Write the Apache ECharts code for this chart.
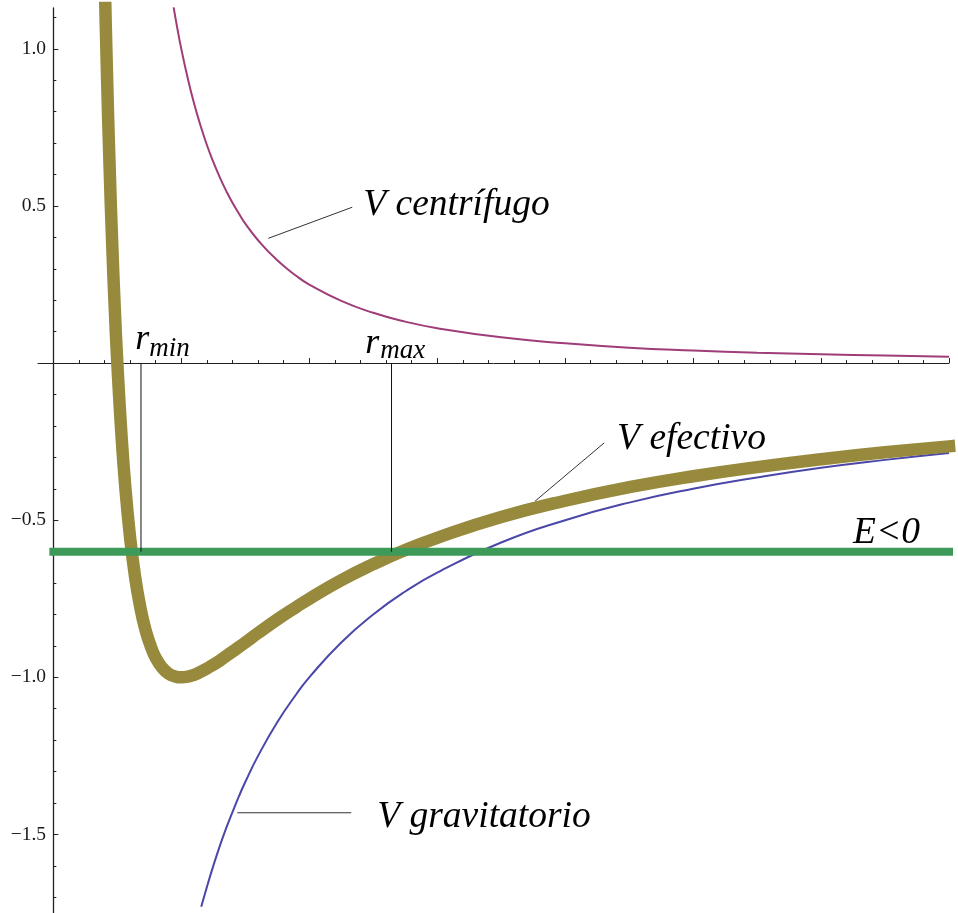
<!DOCTYPE html>
<html>
<head>
<meta charset="utf-8">
<script src="https://cdn.jsdelivr.net/npm/echarts@6/dist/echarts.min.js"></script>
<style>
  html, body { margin: 0; padding: 0; background: #fff; }
  #chart { width: 958px; height: 913px; }
</style>
</head>
<body>
<div id="chart"></div>
<script>
// Effective potential: radius r and potential values
const rEff = [0.38, 0.40, 0.42, 0.44, 0.46, 0.48, 0.50, 0.53, 0.56, 0.60, 0.64, 0.68, 0.72, 0.76, 0.80, 0.85, 0.90, 0.95, 1.00,
              1.05, 1.10, 1.15, 1.20, 1.30, 1.40, 1.50, 1.60, 1.75, 1.90, 2.00, 2.25, 2.50, 2.75, 3.00, 3.50, 4.00, 4.50,
              5.00, 5.50, 6.00, 6.50, 7.00];
const vEff = [1.662, 1.250, 0.907, 0.620, 0.378, 0.174, 0.000, -0.214, -0.383, -0.556, -0.684, -0.778, -0.849, -0.900, -0.938,
              -0.969, -0.988, -0.997, -1.000, -0.998, -0.992, -0.983, -0.972, -0.947, -0.918, -0.889, -0.859, -0.816, -0.776,
              -0.750, -0.691, -0.640, -0.595, -0.556, -0.490, -0.438, -0.395, -0.360, -0.331, -0.306, -0.284, -0.265];

// Centrifugal term
const rCent = [0.94, 0.97, 1.00, 1.05, 1.10, 1.15, 1.20, 1.25, 1.30, 1.35, 1.40, 1.45, 1.50, 1.60, 1.75, 1.90, 2.00,
               2.25, 2.50, 2.75, 3.00, 3.50, 4.00, 4.50, 5.00, 5.50, 6.00, 6.50, 7.00];
const vCent = [1.132, 1.063, 1.000, 0.907, 0.826, 0.756, 0.694, 0.640, 0.592, 0.549, 0.510, 0.476, 0.444, 0.391, 0.327,
               0.277, 0.250, 0.198, 0.160, 0.132, 0.111, 0.082, 0.063, 0.049, 0.040, 0.033, 0.028, 0.024, 0.020];

// Gravitational term
const rGrav = [1.156, 1.20, 1.25, 1.30, 1.35, 1.40, 1.45, 1.50, 1.60, 1.75, 1.90, 2.00, 2.25, 2.50, 2.75, 3.00, 3.50,
               4.00, 4.50, 5.00, 5.50, 6.00, 6.50, 7.00];
const vGrav = [-1.730, -1.667, -1.600, -1.538, -1.481, -1.429, -1.379, -1.333, -1.250, -1.143, -1.053, -1.000, -0.889,
               -0.800, -0.727, -0.667, -0.571, -0.500, -0.444, -0.400, -0.364, -0.333, -0.308, -0.286];

// Energy level and the two turning radii marked on the axis
const energyLevel = -0.6;
const energySpan = [0, 7];
const turningRadii = [0.685, 2.643];

// Axis ticks
const xMajorTicks = [1, 2, 3, 4, 5, 6, 7];
const xMinorTicks = [0.2, 0.4, 0.6, 0.8, 1.2, 1.4, 1.6, 1.8, 2.2, 2.4, 2.6, 2.8, 3.2, 3.4, 3.6, 3.8,
                     4.2, 4.4, 4.6, 4.8, 5.2, 5.4, 5.6, 5.8, 6.2, 6.4, 6.6, 6.8];
const yMajorTicks = [-1.5, -1.0, -0.5, 0.5, 1.0];
const yMinorTicks = [-1.7, -1.6, -1.4, -1.3, -1.2, -1.1, -0.9, -0.8, -0.7, -0.6, -0.4, -0.3, -0.2, -0.1,
                     0.1, 0.2, 0.3, 0.4, 0.6, 0.7, 0.8, 0.9, 1.1];

// Annotation text and leader lines (in axis units)
const labels = [
  { text: 'V centrífugo', at: [2.422, 0.474] },
  { text: 'V efectivo', at: [4.406, -0.270] },
  { text: 'V gravitatorio', at: [2.531, -1.475] },
  { text: 'E<0', at: [6.25, -0.569] }
];
const radiusLabels = [
  { main: 'r', sub: 'min', at: [0.641, 0.048], subAt: [0.750, 0.025] },
  { main: 'r', sub: 'max', at: [2.4375, 0.035], subAt: [2.555, 0.019] }
];
const leaders = [
  [[1.680, 0.397], [2.336, 0.496]],
  [[3.766, -0.439], [4.305, -0.254]],
  [[1.4375, -1.431], [2.328, -1.431]]
];

const zip = (xs, ys) => xs.map((x, i) => [x, ys[i]]);
const SERIF = '"Liberation Serif", "Times New Roman", serif';
const axisColor = '#222';

const chart = echarts.init(document.getElementById('chart'), null, { renderer: 'canvas' });

const baseLine = {
  type: 'line', showSymbol: false, symbol: 'none', silent: true, animation: false,
  xAxisIndex: 0, yAxisIndex: 0, clip: true
};

const series = [
  Object.assign({}, baseLine, {
    name: 'V centrífugo', data: zip(rCent, vCent), smooth: 0.5,
    lineStyle: { color: '#9e3d78', width: 2 }
  }),
  Object.assign({}, baseLine, {
    name: 'V gravitatorio', data: zip(rGrav, vGrav), smooth: 0.5,
    lineStyle: { color: '#4a47a8', width: 2 }
  }),
  Object.assign({}, baseLine, {
    name: 'V efectivo', data: zip(rEff, vEff), smooth: 0.5,
    lineStyle: { color: '#978a3c', width: 12.5, cap: 'square', join: 'round' }
  }),
  Object.assign({}, baseLine, {
    name: 'E', data: energySpan.map(r => [r, energyLevel]),
    lineStyle: { color: '#3e9a58', width: 8, cap: 'square' }
  })
];
turningRadii.forEach(r => {
  series.push(Object.assign({}, baseLine, {
    data: [[r, 0], [r, energyLevel]],
    lineStyle: { color: '#111', width: 1 }
  }));
});
leaders.forEach(seg => {
  series.push(Object.assign({}, baseLine, {
    data: seg,
    lineStyle: { color: '#333', width: 1 }
  }));
});

const fmt = v => (v < 0 ? '\u2212' : '') + Math.abs(v).toFixed(1);

chart.setOption({
  animation: false,
  backgroundColor: '#fff',
  grid: { left: 38, right: 9, top: 8, bottom: 0, containLabel: false, outerBoundsMode: 'none' },
  xAxis: [
    {
      type: 'value', min: -0.12, max: 7, position: 'bottom',
      axisLine: { show: true, onZero: true, onZeroAxisIndex: 0, lineStyle: { color: axisColor, width: 1 } },
      axisTick: { show: true, inside: true, length: 5, customValues: xMajorTicks, lineStyle: { color: axisColor } },
      axisLabel: { show: false },
      splitLine: { show: false }
    },
    {
      type: 'value', min: -0.12, max: 7, position: 'bottom',
      axisLine: { show: false, onZero: true, onZeroAxisIndex: 0 },
      axisTick: { show: true, inside: true, length: 3, customValues: xMinorTicks, lineStyle: { color: axisColor } },
      axisLabel: { show: false },
      splitLine: { show: false }
    }
  ],
  yAxis: [
    {
      type: 'value', min: -1.75, max: 1.13, position: 'left',
      axisLine: { show: true, onZero: true, onZeroAxisIndex: 0, lineStyle: { color: axisColor, width: 1.3 } },
      axisTick: { show: true, inside: true, length: 5, customValues: yMajorTicks, lineStyle: { color: axisColor } },
      axisLabel: {
        show: true, customValues: yMajorTicks, formatter: fmt, margin: -8,
        fontFamily: SERIF, fontSize: 19.5, color: '#1a1a1a'
      },
      splitLine: { show: false }
    },
    {
      type: 'value', min: -1.75, max: 1.13, position: 'left',
      axisLine: { show: false, onZero: true, onZeroAxisIndex: 0 },
      axisTick: { show: true, inside: true, length: 3, customValues: yMinorTicks, lineStyle: { color: axisColor } },
      axisLabel: { show: false },
      splitLine: { show: false }
    }
  ],
  series: series
});

// Place the italic annotations at their axis-unit anchors (baseline-aligned)
const toPx = p => chart.convertToPixel({ seriesIndex: 0 }, p);
const baseOffset = 0.24;
const textEl = (str, at, size) => {
  const p = toPx(at);
  return {
    type: 'text', silent: true, z: 100,
    x: p[0], y: p[1] - baseOffset * size,
    style: {
      text: str, fill: '#000', align: 'left', verticalAlign: 'middle',
      font: 'italic ' + size + 'px ' + SERIF
    }
  };
};
const graphics = [];
labels.forEach(l => graphics.push(textEl(l.text, l.at, 37.5)));
radiusLabels.forEach(l => {
  graphics.push(textEl(l.main, l.at, 36));
  graphics.push(textEl(l.sub, l.subAt, 27));
});
chart.setOption({ graphic: graphics });
</script>
</body>
</html>
